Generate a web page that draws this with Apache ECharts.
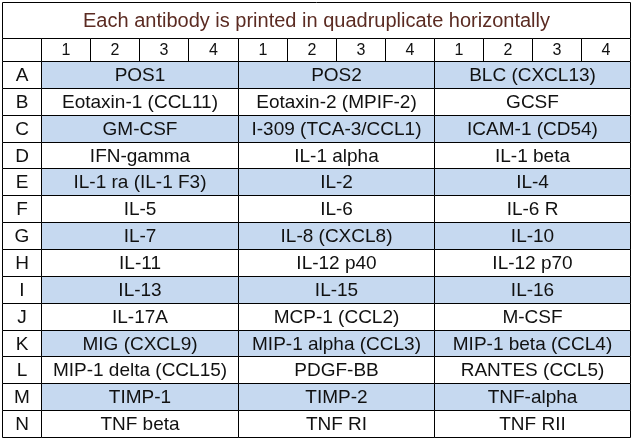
<!DOCTYPE html>
<html><head><meta charset="utf-8">
<script src="https://cdn.jsdelivr.net/npm/echarts@6/dist/echarts.min.js"></script>
<style>html,body{margin:0;padding:0;background:#fff}#c{width:631px;height:439px}</style>
</head><body><div id="c"></div>
<script>
const titleText = 'Each antibody is printed in quadruplicate horizontally';
const rowLetters = ['A','B','C','D','E','F','G','H','I','J','K','L','M','N'];
const subCols = ['1','2','3','4'];
const antibodies = [
  ['POS1','POS2','BLC (CXCL13)'],
  ['Eotaxin-1 (CCL11)','Eotaxin-2 (MPIF-2)','GCSF'],
  ['GM-CSF','I-309 (TCA-3/CCL1)','ICAM-1 (CD54)'],
  ['IFN-gamma','IL-1 alpha','IL-1 beta'],
  ['IL-1 ra (IL-1 F3)','IL-2','IL-4'],
  ['IL-5','IL-6','IL-6 R'],
  ['IL-7','IL-8 (CXCL8)','IL-10'],
  ['IL-11','IL-12 p40','IL-12 p70'],
  ['IL-13','IL-15','IL-16'],
  ['IL-17A','MCP-1 (CCL2)','M-CSF'],
  ['MIG (CXCL9)','MIP-1 alpha (CCL3)','MIP-1 beta (CCL4)'],
  ['MIP-1 delta (CCL15)','PDGF-BB','RANTES (CCL5)'],
  ['TIMP-1','TIMP-2','TNF-alpha'],
  ['TNF beta','TNF RI','TNF RII']
];
const nGroups = 3;
const LC = -0.8, HT = -0.85, TT = -2.2;
const cells = [];
cells.push([LC, nGroups*subCols.length, TT, HT, titleText, 'title']);
cells.push([LC, 0, HT, 0, '', 'head']);
for (let g=0; g<nGroups; g++) subCols.forEach((s,i)=>cells.push([g*4+i, g*4+i+1, HT, 0, s, 'head']));
rowLetters.forEach((r,ri)=>{
  cells.push([LC, 0, ri, ri+1, r, 'letter']);
  antibodies[ri].forEach((a,g)=>cells.push([g*4, g*4+4, ri, ri+1, a, ri%2===0?'blue':'white']));
});
const chart = echarts.init(document.getElementById('c'));
chart.setOption({
  animation:false,
  grid:{left:2,right:1,top:2,bottom:2},
  xAxis:{type:'value',min:LC,max:12,show:false},
  yAxis:{type:'value',min:TT,max:14,inverse:true,show:false},
  series:[{
    type:'custom',
    data:cells,
    encode:{x:[0,1],y:[2,3]},
    renderItem:(params,api)=>{
      const p0 = api.coord([api.value(0), api.value(2)]);
      const p1 = api.coord([api.value(1), api.value(3)]);
      const kind = cells[params.dataIndex][5];
      const txt = cells[params.dataIndex][4];
      const fill = kind==='blue' ? '#c6d9f0' : '#ffffff';
      const x=Math.round(p0[0])+0.5, y=Math.round(p0[1])+0.5;
      const w=Math.round(p1[0])-Math.round(p0[0]), h=Math.round(p1[1])-Math.round(p0[1]);
      return {type:'group',children:[
        {type:'rect',shape:{x,y,width:w,height:h},style:{fill,stroke:'#000',lineWidth:1}},
        {type:'text',style:{x:x+w/2,y:y+h/2+1,text:txt,align:'center',verticalAlign:'middle',
          fill: kind==='title'?'#5b2b22':'#111',
          fontFamily:'Liberation Sans, Arial, sans-serif',
          fontSize: kind==='title'?20:(kind==='head'?16:19)}}
      ]};
    }
  }]
});
</script></body></html>
